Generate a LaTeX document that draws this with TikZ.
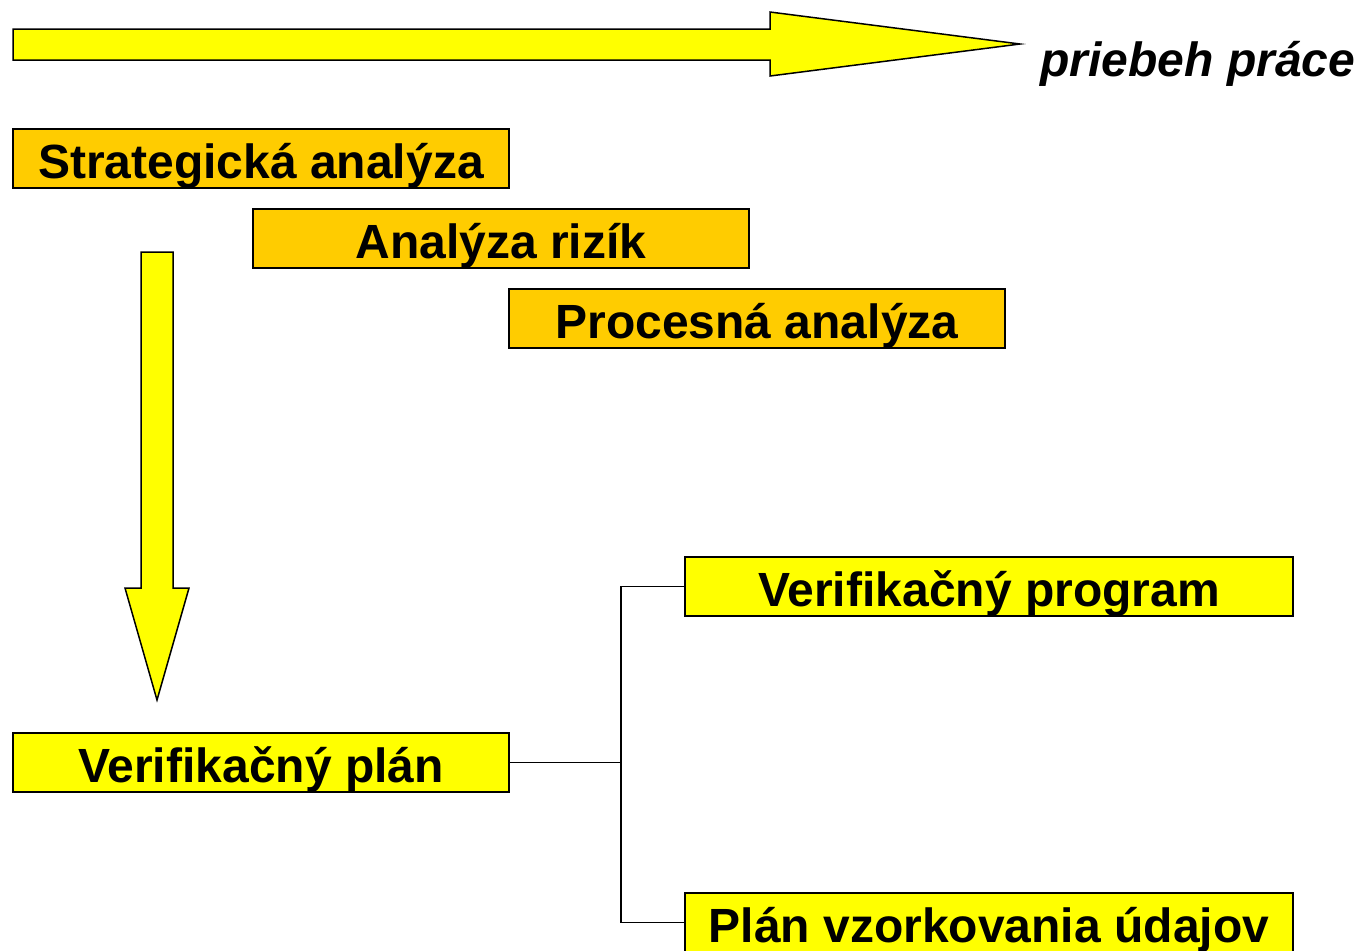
\documentclass[tikz,border=0pt]{standalone}
\usepackage{fontspec}
\setmainfont{Liberation Sans}
\usepackage{tikz}

\definecolor{boxorange}{HTML}{FFCC00}
\definecolor{boxyellow}{HTML}{FFFF00}

\begin{document}
\begin{tikzpicture}[x = 0.5pt, y = -0.5pt, font = \fontsize{24}{28}\selectfont\bfseries,
      box/.style = {draw, line width = 0.75pt, inner sep = 0pt, minimum height = 29.5pt,
        text height = 19.5pt, text depth = 0pt},
      phase/.style = {box, fill = boxorange, minimum width = 248pt},
      plan/.style = {box, fill = boxyellow, minimum width = 248pt},
      part/.style = {box, fill = boxyellow, minimum width = 304pt},
      bigarrow/.style = {draw, fill = boxyellow, line width = 0.75pt, line join = miter}]
      \clip (0,0) rectangle (1360,950);
      \useasboundingbox (0,0) rectangle (1360,950);
      % work flow arrow
      \draw[bigarrow] (13,29) -- (770,29) -- (770,12) -- (1020,44) -- (770,76) -- (770,60) -- (13,60) -- cycle;
      \node[anchor = base west, inner sep = 0pt] (flow) at (1040,76) {\itshape priebeh práce};
      % analyses
      \node[phase] (strat) at (261,158.5) {Strategická analýza};
      \node[phase] (risk) at (501,238.5) {Analýza rizík};
      \node[phase] (proc) at (757,318.5) {Procesná analýza};
      % downward arrow
      \draw[bigarrow] (141,252) -- (173,252) -- (173,588) -- (189,588) -- (157,700) -- (125,588) -- (141,588) -- cycle;
      % plans
      \node[plan] (vplan) at (261,762.5) {Verifikačný plán};
      \node[part] (vprog) at (989,586.5) {Verifikačný program};
      \node[part] (sample) at (989,922.5) {Plán vzorkovania údajov};
      \coordinate (split) at (621,762.5);
      \draw[line width = 0.6pt] (vplan.east) -- (split);
      \draw[line width = 0.6pt] (split) |- (vprog.west);
      \draw[line width = 0.6pt] (split) |- (sample.west);
\end{tikzpicture}
\end{document}
